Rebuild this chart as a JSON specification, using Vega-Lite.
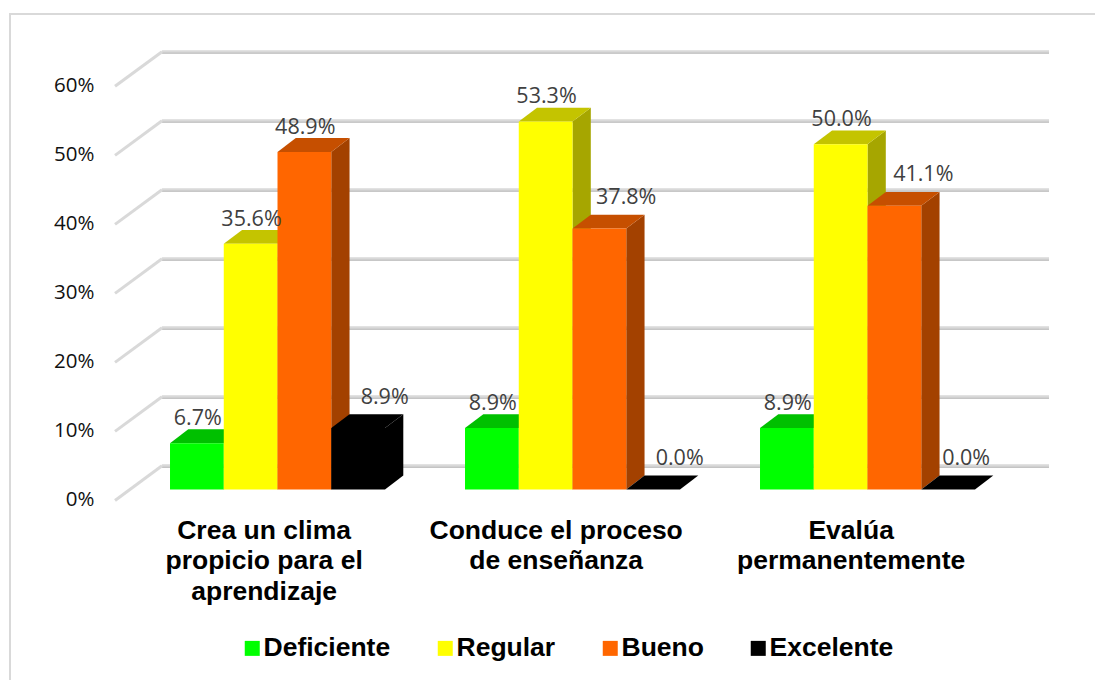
{
  "$schema": "https://vega.github.io/schema/vega-lite/v6.json",
  "width": 1090,
  "height": 670,
  "autosize": "none",
  "padding": {"left": 10, "top": 14, "right": 0, "bottom": 0},
  "background": "white",
  "view": {"stroke": "#D9D9D9", "strokeWidth": 2},
  "datasets": {
    "barras": [
      {"criterio": "Crea un clima\npropicio para el\naprendizaje", "grupo": 0, "nivel": "Deficiente", "orden": 0, "valor": 6.7},
      {"criterio": "Crea un clima\npropicio para el\naprendizaje", "grupo": 0, "nivel": "Regular", "orden": 1, "valor": 35.6},
      {"criterio": "Crea un clima\npropicio para el\naprendizaje", "grupo": 0, "nivel": "Bueno", "orden": 2, "valor": 48.9},
      {"criterio": "Crea un clima\npropicio para el\naprendizaje", "grupo": 0, "nivel": "Excelente", "orden": 3, "valor": 8.9},
      {"criterio": "Conduce el proceso\nde enseñanza", "grupo": 1, "nivel": "Deficiente", "orden": 0, "valor": 8.9},
      {"criterio": "Conduce el proceso\nde enseñanza", "grupo": 1, "nivel": "Regular", "orden": 1, "valor": 53.3},
      {"criterio": "Conduce el proceso\nde enseñanza", "grupo": 1, "nivel": "Bueno", "orden": 2, "valor": 37.8},
      {"criterio": "Conduce el proceso\nde enseñanza", "grupo": 1, "nivel": "Excelente", "orden": 3, "valor": 0},
      {"criterio": "Evalúa\npermanentemente", "grupo": 2, "nivel": "Deficiente", "orden": 0, "valor": 8.9},
      {"criterio": "Evalúa\npermanentemente", "grupo": 2, "nivel": "Regular", "orden": 1, "valor": 50},
      {"criterio": "Evalúa\npermanentemente", "grupo": 2, "nivel": "Bueno", "orden": 2, "valor": 41.1},
      {"criterio": "Evalúa\npermanentemente", "grupo": 2, "nivel": "Excelente", "orden": 3, "valor": 0}
    ],
    "rejilla": [{"g": 0}, {"g": 10}, {"g": 20}, {"g": 30}, {"g": 40}, {"g": 50}, {"g": 60}]
  },
  "resolve": {"scale": {"color": "independent"}, "axis": {"y": "independent"}},
  "layer": [
    {
      "description": "Back wall lines with their darker lower edge",
      "data": {"name": "rejilla"},
      "transform": [{"calculate": "datum.g + 3.42", "as": "pared"}],
      "mark": {"type": "rule", "stroke": "#D9D9D9", "strokeWidth": 3},
      "encoding": {
        "x": {"datum": -0.0271, "type": "quantitative", "scale": {"domain": [-0.5424, 3.1525], "nice": false, "zero": false}, "axis": null},
        "x2": {"datum": 2.9797},
        "y": {"field": "pared", "type": "quantitative", "scale": {"domain": [-28.2, 68.88], "nice": false, "zero": false},
          "axis": {"values": [0, 10, 20, 30, 40, 50, 60], "title": null, "grid": false, "domain": false, "ticks": false, "offset": -84, "labelPadding": 0, "labelOffset": 10.5, "labelFont": "Open Sans", "labelFontSize": 20.5, "labelColor": "#111111", "labelExpr": "datum.value + '%'"}}
      }
    },
    {
      "data": {"name": "rejilla"},
      "transform": [{"calculate": "datum.g + 3.42", "as": "pared"}],
      "mark": {"type": "rule", "stroke": "#B5B5B5", "strokeWidth": 1, "yOffset": 1.5},
      "encoding": {
        "x": {"datum": -0.0271, "type": "quantitative", "scale": {"domain": [-0.5424, 3.1525], "nice": false, "zero": false}, "axis": null},
        "x2": {"datum": 2.9797},
        "y": {"field": "pared", "type": "quantitative", "scale": {"domain": [-28.2, 68.88], "nice": false, "zero": false}, "axis": null}
      }
    },
    {
      "description": "Side wall diagonals",
      "data": {"name": "rejilla"},
      "transform": [
        {"calculate": "datum.g - 1.6", "as": "frente"},
        {"calculate": "datum.g + 3.42", "as": "pared"}
      ],
      "mark": {"type": "rule", "stroke": "#D9D9D9", "strokeWidth": 3},
      "encoding": {
        "x": {"datum": -0.1864, "type": "quantitative", "scale": {"domain": [-0.5424, 3.1525], "nice": false, "zero": false}, "axis": null},
        "x2": {"datum": -0.0271},
        "y": {"field": "frente", "type": "quantitative", "scale": {"domain": [-28.2, 68.88], "nice": false, "zero": false}, "axis": null},
        "y2": {"field": "pared"}
      }
    },
    {
      "description": "Right-hand side face of each bar",
      "data": {"name": "barras"},
      "transform": [
        {"calculate": "datum.grupo + (datum.orden + 1) * 0.1822", "as": "borde"},
        {"calculate": "[0, 1]", "as": "t"},
        {"flatten": ["t"]},
        {"calculate": "datum.borde + datum.t * 0.062", "as": "px"},
        {"calculate": "datum.valor + datum.t * 2", "as": "alto"},
        {"calculate": "datum.t * 2", "as": "bajo"},
        {"calculate": "datum.criterio + datum.nivel", "as": "cara"}
      ],
      "mark": {"type": "area", "interpolate": "linear"},
      "encoding": {
        "x": {"field": "px", "type": "quantitative", "scale": {"domain": [-0.5424, 3.1525], "nice": false, "zero": false}, "axis": null},
        "y": {"field": "alto", "type": "quantitative", "scale": {"domain": [-28.2, 68.88], "nice": false, "zero": false}, "axis": null},
        "y2": {"field": "bajo"},
        "detail": {"field": "cara"},
        "color": {"field": "nivel", "type": "nominal", "legend": null,
          "scale": {"domain": ["Deficiente", "Regular", "Bueno", "Excelente"], "range": ["#00A000", "#A6A600", "#A34100", "#000000"]}}
      }
    },
    {
      "description": "Top face of each bar",
      "data": {"name": "barras"},
      "transform": [
        {"calculate": "datum.grupo + datum.orden * 0.1822", "as": "izq"},
        {"calculate": "[0, 1, 2, 3]", "as": "t"},
        {"flatten": ["t"]},
        {"calculate": "datum.t < 2 ? datum.izq + datum.t * 0.062 : datum.izq + 0.1822 + (datum.t - 2) * 0.062", "as": "px"},
        {"calculate": "datum.t < 3 ? datum.valor : datum.valor + 2", "as": "bajo"},
        {"calculate": "datum.t == 0 ? datum.valor : datum.valor + 2", "as": "alto"},
        {"calculate": "datum.criterio + datum.nivel", "as": "cara"}
      ],
      "mark": {"type": "area", "interpolate": "linear"},
      "encoding": {
        "x": {"field": "px", "type": "quantitative", "scale": {"domain": [-0.5424, 3.1525], "nice": false, "zero": false}, "axis": null},
        "y": {"field": "alto", "type": "quantitative", "scale": {"domain": [-28.2, 68.88], "nice": false, "zero": false}, "axis": null},
        "y2": {"field": "bajo"},
        "detail": {"field": "cara"},
        "color": {"field": "nivel", "type": "nominal", "legend": null,
          "scale": {"domain": ["Deficiente", "Regular", "Bueno", "Excelente"], "range": ["#00C000", "#C4C400", "#C64F00", "#000000"]}}
      }
    },
    {
      "description": "Front face of each bar",
      "data": {"name": "barras"},
      "transform": [
        {"calculate": "datum.grupo + datum.orden * 0.1822", "as": "izq"},
        {"calculate": "datum.izq + 0.1822", "as": "der"}
      ],
      "mark": {"type": "bar"},
      "encoding": {
        "x": {"field": "izq", "type": "quantitative", "scale": {"domain": [-0.5424, 3.1525], "nice": false, "zero": false}, "axis": null},
        "x2": {"field": "der"},
        "y": {"field": "valor", "type": "quantitative", "scale": {"domain": [-28.2, 68.88], "nice": false, "zero": false}, "axis": null},
        "y2": {"datum": 0},
        "color": {"field": "nivel", "type": "nominal",
          "scale": {"domain": ["Deficiente", "Regular", "Bueno", "Excelente"], "range": ["#00FF00", "#FFFF00", "#FF6600", "#000000"]},
          "legend": {"title": null, "orient": "none", "legendX": 229, "legendY": 621, "direction": "horizontal", "columns": 4, "columnPadding": 41, "symbolType": "square", "symbolSize": 225, "symbolStrokeWidth": 0, "labelFont": "Liberation Sans", "labelFontWeight": "bold", "labelFontSize": 26.5, "labelColor": "#000000", "labelLimit": 300, "labelOffset": -2}}
      }
    },
    {
      "description": "Value labels",
      "data": {"name": "barras"},
      "transform": [
        {"calculate": "datum.grupo + (datum.orden + 0.5) * 0.1822 + 0.003", "as": "centro"},
        {"calculate": "datum.nivel == 'Excelente' ? (datum.grupo == 2 ? 0.058 : 0.087) : (datum.nivel == 'Bueno' && datum.grupo > 0 ? (datum.grupo == 1 ? 0.088 : 0.095) : 0)", "as": "corrida"},
        {"calculate": "datum.centro + datum.corrida", "as": "xEtiqueta"},
        {"calculate": "datum.valor + 2 + (datum.corrida > 0 ? 2.4 : 1.5)", "as": "yEtiqueta"},
        {"calculate": "format(datum.valor, '.1f') + '%'", "as": "etiqueta"}
      ],
      "mark": {"type": "text", "font": "Open Sans", "fontSize": 21.5, "color": "#404040", "baseline": "middle", "align": "center"},
      "encoding": {
        "x": {"field": "xEtiqueta", "type": "quantitative", "scale": {"domain": [-0.5424, 3.1525], "nice": false, "zero": false}, "axis": null},
        "y": {"field": "yEtiqueta", "type": "quantitative", "scale": {"domain": [-28.2, 68.88], "nice": false, "zero": false}, "axis": null},
        "text": {"field": "etiqueta"}
      }
    },
    {
      "description": "Category names under each group of bars",
      "data": {"name": "barras"},
      "transform": [
        {"filter": "datum.nivel == 'Deficiente'"},
        {"calculate": "datum.grupo + (datum.grupo == 0 ? 0.319 : 0.309)", "as": "xNombre"},
        {"calculate": "-4.1", "as": "yNombre"}
      ],
      "mark": {"type": "text", "font": "Liberation Sans", "fontWeight": "bold", "fontSize": 26.5, "lineHeight": 30.8, "lineBreak": "\n", "color": "#000000", "baseline": "top", "align": "center"},
      "encoding": {
        "x": {"field": "xNombre", "type": "quantitative", "scale": {"domain": [-0.5424, 3.1525], "nice": false, "zero": false}, "axis": null},
        "y": {"field": "yNombre", "type": "quantitative", "scale": {"domain": [-28.2, 68.88], "nice": false, "zero": false}, "axis": null},
        "text": {"field": "criterio"}
      }
    }
  ]
}
